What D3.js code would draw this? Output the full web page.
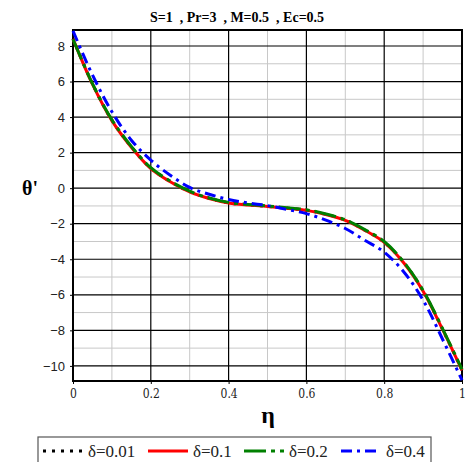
<!DOCTYPE html>
<html>
<head>
<meta charset="utf-8">
<script src="https://cdn.jsdelivr.net/npm/d3@7"></script>
<style>
  body { margin: 0; background: #fff; }
  svg { display: block; }
</style>
</head>
<body>
<div id="app"></div>
<script>
const W = 465;
const H = 462;

// data
const eta = [0, 0.05, 0.1, 0.15, 0.2, 0.25, 0.3, 0.35, 0.4, 0.45, 0.5, 0.55, 0.6, 0.65, 0.7, 0.75, 0.8, 0.85, 0.9, 0.95, 1];
const d001 = [8.42, 5.87, 3.82, 2.32, 1.12, 0.37, -0.2, -0.57, -0.82, -0.94, -1.02, -1.12, -1.24, -1.47, -1.8, -2.36, -3.04, -4.18, -5.78, -7.94, -10.24];
const d01 = [8.4, 5.85, 3.8, 2.3, 1.1, 0.36, -0.21, -0.58, -0.83, -0.95, -1.03, -1.13, -1.25, -1.48, -1.81, -2.37, -3.05, -4.2, -5.8, -7.95, -10.25];
const d02 = [8.38, 5.88, 3.85, 2.35, 1.15, 0.4, -0.17, -0.55, -0.8, -0.92, -1.0, -1.1, -1.22, -1.45, -1.78, -2.33, -3.0, -4.15, -5.75, -7.9, -10.2];
const d04 = [8.85, 6.37, 4.3, 2.7, 1.58, 0.73, 0.04, -0.34, -0.64, -0.83, -0.98, -1.2, -1.43, -1.8, -2.27, -2.93, -3.6, -4.7, -6.3, -8.5, -10.8];

const series = [
  { name: "δ=0.01", values: d001, color: "#000", dash: "3,6" },
  { name: "δ=0.1", values: d01, color: "#ff0000", dash: null },
  { name: "δ=0.2", values: d02, color: "#008000", dash: "22,5,4,5" },
  { name: "δ=0.4", values: d04, color: "#0000ff", dash: "11,5,3,5" }
];

const xTicks = [0, 0.2, 0.4, 0.6, 0.8, 1];
const yTicks = [-10, -8, -6, -4, -2, 0, 2, 4, 6, 8];

const mLeft = 73, mRight = 462, mTop = 30, mBottom = 381;

const svg = d3.select("#app").append("svg").attr("width", W).attr("height", H);

const x = d3.scaleLinear().domain([0, 1]).range([mLeft, mRight]);
const y = d3.scaleLinear().domain([-10.85, 8.9]).range([mBottom, mTop]);

//minor grid
const g = svg.append("g");
g.selectAll(".mx").data(d3.range(0.1, 1, 0.2)).enter().append("line")
  .attr("x1", d => x(d)).attr("x2", d => x(d)).attr("y1", mTop).attr("y2", mBottom)
  .attr("stroke", "#c8c8c8").attr("stroke-width", 1);
g.selectAll(".my").data(d3.range(-9, 9, 2)).enter().append("line")
  .attr("x1", mLeft).attr("x2", mRight).attr("y1", d => y(d)).attr("y2", d => y(d))
  .attr("stroke", "#c8c8c8").attr("stroke-width", 1);

//major grid
g.selectAll(".Mx").data(xTicks).enter().append("line")
  .attr("x1", d => x(d)).attr("x2", d => x(d)).attr("y1", mTop).attr("y2", mBottom)
  .attr("stroke", "#000").attr("stroke-width", 1.2);
g.selectAll(".My").data(yTicks).enter().append("line")
  .attr("x1", mLeft).attr("x2", mRight).attr("y1", d => y(d)).attr("y2", d => y(d))
  .attr("stroke", "#000").attr("stroke-width", 1.2);

//axes
const yAxis = d3.axisLeft(y).tickValues(yTicks).tickSize(3).tickPadding(5).tickFormat(d3.format("d"));
const yg = svg.append("g").attr("transform", `translate(${mLeft},0)`).call(yAxis);
yg.select(".domain").remove();
yg.selectAll("text").attr("font-family", "Liberation Sans, Arial, sans-serif").attr("font-size", 13).attr("fill", "#222");

const xAxis = d3.axisBottom(x).tickValues(xTicks).tickSize(3).tickPadding(5).tickFormat(d => d === 0 || d === 1 ? d : d.toFixed(1));
const xg = svg.append("g").attr("transform", `translate(0,${mBottom})`).call(xAxis);
xg.select(".domain").remove();
xg.selectAll("text").attr("font-family", "DejaVu Serif Condensed, Liberation Serif, serif").attr("font-size", 12).attr("fill", "#222");

//frame
svg.append("rect").attr("x", mLeft).attr("y", mTop).attr("width", mRight - mLeft).attr("height", mBottom - mTop)
  .attr("fill", "none").attr("stroke", "#000").attr("stroke-width", 2);

//curves
const line = d3.line().x((d, i) => x(eta[i])).y(d => y(d)).curve(d3.curveCatmullRom);
svg.append("g").selectAll("path").data(series).enter().append("path")
  .attr("d", d => line(d.values))
  .attr("fill", "none")
  .attr("stroke", d => d.color)
  .attr("stroke-width", 3)
  .attr("stroke-dasharray", d => d.dash);

//title & labels
svg.append("text").attr("x", 237).attr("y", 22).attr("text-anchor", "middle")
  .attr("font-family", "Liberation Serif, Times New Roman, serif").attr("font-weight", "bold").attr("font-size", 14)
  .style("white-space", "pre")
  .text("S=1  , Pr=3  , M=0.5  , Ec=0.5");

svg.append("text").attr("x", 30).attr("y", 195).attr("text-anchor", "middle")
  .attr("font-family", "Liberation Serif, Times New Roman, serif").attr("font-weight", "bold").attr("font-size", 20)
  .text("θ'");

svg.append("text").attr("x", 268).attr("y", 423).attr("text-anchor", "middle")
  .attr("font-family", "Liberation Serif, Times New Roman, serif").attr("font-weight", "bold").attr("font-size", 24)
  .text("η");

//legend
const legend = svg.append("g");
legend.append("rect").attr("x", 38).attr("y", 437).attr("width", 393).attr("height", 30)
  .attr("fill", "#fff").attr("stroke", "#555").attr("stroke-width", 1.2);
const lx = [43, 148, 244, 341];
series.forEach((s, i) => {
  legend.append("line").attr("x1", lx[i]).attr("x2", lx[i] + 40).attr("y1", 451).attr("y2", 451)
    .attr("stroke", s.color).attr("stroke-width", 3).attr("stroke-dasharray", s.dash);
  legend.append("text").attr("x", lx[i] + 45).attr("y", 457)
    .attr("font-family", "Liberation Serif, Times New Roman, serif").attr("font-size", 17).attr("fill", "#222")
    .text(s.name);
});
</script>
</body>
</html>
